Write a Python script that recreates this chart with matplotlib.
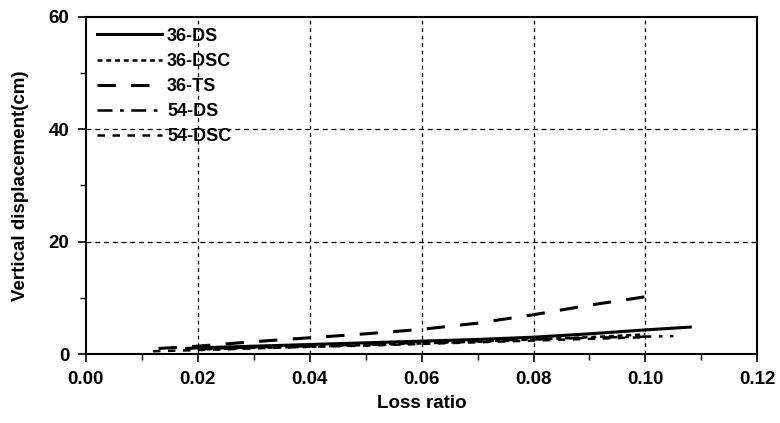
import matplotlib.pyplot as plt
import numpy as np

plt.rcParams['font.family'] = ['Liberation Sans', 'DejaVu Sans']
plt.rcParams['font.weight'] = 'bold'

# data
x_36ds = [0.018, 0.02, 0.03, 0.04, 0.05, 0.06, 0.07, 0.08, 0.09, 0.10, 0.108]
y_36ds = [1.0, 1.1, 1.4, 1.7, 2.0, 2.3, 2.6, 3.0, 3.6, 4.3, 4.8]

x_36dsc = [0.02, 0.03, 0.04, 0.05, 0.06, 0.07, 0.08, 0.09, 0.10]
y_36dsc = [0.8, 1.1, 1.3, 1.6, 1.9, 2.2, 2.6, 3.0, 3.5]

x_36ts = [0.013, 0.02, 0.03, 0.04, 0.05, 0.06, 0.07, 0.08, 0.09, 0.10, 0.102]
y_36ts = [1.0, 1.4, 2.2, 2.9, 3.6, 4.4, 5.5, 7.0, 8.7, 10.2, 10.9]

x_54ds = [0.02, 0.03, 0.04, 0.05, 0.06, 0.07, 0.08, 0.09, 0.105]
y_54ds = [0.9, 1.2, 1.4, 1.7, 2.0, 2.3, 2.6, 2.9, 3.2]

x_54dsc = [0.012, 0.02, 0.03, 0.04, 0.05, 0.06, 0.07, 0.08, 0.09, 0.10]
y_54dsc = [0.5, 0.7, 1.0, 1.3, 1.5, 1.8, 2.1, 2.4, 2.7, 3.0]

fig = plt.figure(figsize=(7.8, 4.23), dpi=100)
ax = fig.add_axes([0.110, 0.163, 0.861, 0.797])

ax.plot(x_36ds, y_36ds, color='black', lw=2.2, ls='-', label='36-DS')
ax.plot(x_36dsc, y_36dsc, color='black', lw=1.8, ls=(0, (2, 1.5)), label='36-DSC')
ax.plot(x_36ts, y_36ts, color='black', lw=2.2, ls=(0, (6, 5)), label='36-TS')
ax.plot(x_54ds, y_54ds, color='black', lw=1.8, ls=(0, (6, 3, 1.5, 3)), label='54-DS')
ax.plot(x_54dsc, y_54dsc, color='black', lw=1.8, ls=(0, (3, 3)), label='54-DSC')

ax.set_xlim(0, 0.12)
ax.set_ylim(0, 60)
ax.set_xticks(np.arange(0, 0.121, 0.02))
ax.set_xticks(np.arange(0.01, 0.12, 0.02), minor=True)
ax.set_yticks([0, 20, 40, 60])
ax.set_yticks([10, 30, 50], minor=True)
ax.set_xticklabels(['0.00', '0.02', '0.04', '0.06', '0.08', '0.10', '0.12'])
ax.tick_params(axis='both', which='major', direction='out', length=6, width=1.2,
               labelsize=13.5, pad=6)
ax.tick_params(axis='both', which='minor', direction='out', length=4, width=1.0)

for x in [0.02, 0.04, 0.06, 0.08, 0.10]:
    ax.axvline(x, color='black', lw=0.9, ls=(0, (3, 3)), zorder=0)
for y in [20, 40]:
    ax.axhline(y, color='black', lw=0.9, ls=(0, (4, 3)), zorder=0)

for s in ax.spines.values():
    s.set_linewidth(1.5)

ax.set_xlabel('Loss ratio', fontsize=13.5, fontweight='bold', labelpad=5)
ax.set_ylabel('Vertical displacement(cm)', fontsize=13.5, fontweight='bold', labelpad=14)

ax.legend(loc='upper left', frameon=False, handlelength=3.6,
          labelspacing=0.45, borderaxespad=0.2, handletextpad=0.3,
          prop={'weight': 'bold', 'size': 13})

fig.savefig('out.png', dpi=100)
